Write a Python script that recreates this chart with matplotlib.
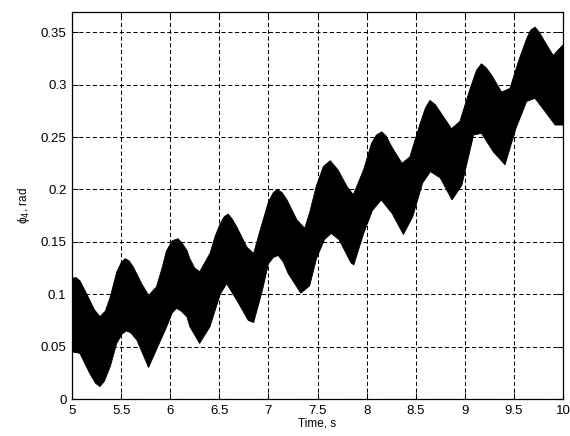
import numpy as np
import matplotlib
matplotlib.use("Agg")
import matplotlib.pyplot as plt

plt.rcParams['font.family'] = ['Liberation Sans', 'DejaVu Sans']

# upper edge of the oscillation band (time s, rad)
t_upper = [5.00, 5.04, 5.08, 5.13, 5.18, 5.23, 5.285, 5.34, 5.39, 5.455,
           5.50, 5.54, 5.58, 5.625, 5.71, 5.78, 5.86, 5.92, 5.96, 6.02,
           6.08, 6.12, 6.17, 6.20, 6.25, 6.30, 6.405, 6.46, 6.51, 6.55,
           6.59, 6.63, 6.68, 6.78, 6.85, 6.915, 7.00, 7.05, 7.09, 7.14,
           7.19, 7.29, 7.37, 7.42, 7.49, 7.56, 7.63, 7.71, 7.80, 7.865,
           7.97, 8.05, 8.10, 8.155, 8.20, 8.255, 8.36, 8.44, 8.545, 8.60,
           8.645, 8.70, 8.75, 8.865, 8.95, 9.055, 9.12, 9.17, 9.22, 9.275,
           9.375, 9.46, 9.545, 9.63, 9.67, 9.715, 9.76, 9.815, 9.90, 10.00]
phi_upper = [0.115, 0.116, 0.113, 0.104, 0.0945, 0.085, 0.0786, 0.084, 0.0976, 0.121,
             0.130, 0.134, 0.132, 0.126, 0.110, 0.099, 0.107, 0.126, 0.141, 0.151,
             0.153, 0.149, 0.142, 0.134, 0.125, 0.1215, 0.139, 0.156, 0.1675, 0.174,
             0.1765, 0.172, 0.164, 0.145, 0.139, 0.161, 0.188, 0.197, 0.200, 0.197,
             0.190, 0.171, 0.163, 0.178, 0.204, 0.222, 0.2275, 0.2186, 0.203, 0.195,
             0.219, 0.244, 0.252, 0.255, 0.251, 0.241, 0.225, 0.231, 0.263, 0.278,
             0.285, 0.281, 0.274, 0.258, 0.265, 0.2965, 0.314, 0.320, 0.316, 0.309,
             0.293, 0.2965, 0.322, 0.344, 0.352, 0.355, 0.350, 0.341, 0.328, 0.338]

# lower edge of the oscillation band
t_lower = [5.00, 5.08, 5.18, 5.24, 5.285, 5.33, 5.39, 5.455, 5.51, 5.555,
           5.60, 5.66, 5.78, 5.86, 5.965, 6.02, 6.065, 6.11, 6.17, 6.20,
           6.30, 6.405, 6.51, 6.575, 6.68, 6.795, 6.85, 6.94, 7.00, 7.05,
           7.10, 7.15, 7.20, 7.33, 7.42, 7.49, 7.57, 7.64, 7.72, 7.84,
           7.87, 7.97, 8.06, 8.15, 8.26, 8.375, 8.47, 8.57, 8.65, 8.75,
           8.87, 8.97, 9.09, 9.17, 9.29, 9.41, 9.52, 9.63, 9.715, 9.82,
           9.92, 10.00]
phi_lower = [0.045, 0.0436, 0.0245, 0.015, 0.0118, 0.017, 0.031, 0.053, 0.062, 0.065,
             0.063, 0.0563, 0.030, 0.047, 0.069, 0.082, 0.0865, 0.084, 0.0785, 0.069,
             0.053, 0.069, 0.100, 0.110, 0.094, 0.075, 0.073, 0.104, 0.129, 0.135,
             0.137, 0.131, 0.120, 0.101, 0.108, 0.134, 0.152, 0.158, 0.152, 0.130,
             0.128, 0.158, 0.180, 0.190, 0.177, 0.157, 0.174, 0.206, 0.217, 0.211,
             0.190, 0.204, 0.252, 0.2535, 0.236, 0.2235, 0.258, 0.284, 0.287, 0.274,
             0.2615, 0.2615]

x_ticks = [5, 5.5, 6, 6.5, 7, 7.5, 8, 8.5, 9, 9.5, 10]
x_labels = ['5', '5.5', '6', '6.5', '7', '7.5', '8', '8.5', '9', '9.5', '10']
y_ticks = [0, 0.05, 0.1, 0.15, 0.2, 0.25, 0.3, 0.35]
y_labels = ['0', '0.05', '0.1', '0.15', '0.2', '0.25', '0.3', '0.35']

fig = plt.figure(figsize=(5.7, 4.36), dpi=100)
ax = fig.add_axes([72 / 570, 1 - 399 / 436, (563 - 72) / 570, (399 - 12) / 436])

xs = np.r_[t_upper, t_lower[::-1]]
ys = np.r_[phi_upper, phi_lower[::-1]]
ax.fill(xs, ys, color='black', linewidth=0.6, zorder=3)

ax.set_xlim(5, 10)
ax.set_ylim(0, 0.3694)
ax.set_xticks(x_ticks)
ax.set_xticklabels(x_labels)
ax.set_yticks(y_ticks)
ax.set_yticklabels(y_labels)

ax.grid(True, color='black', linestyle=(0, (4, 2.5)), linewidth=0.75)
ax.set_axisbelow(True)
ax.tick_params(direction='in', length=4, width=0.75, top=True, right=True,
               labelsize=9.5, colors='black', pad=4)
for sp in ax.spines.values():
    sp.set_linewidth(0.9)

ax.set_xlabel('Time, s', fontsize=8.5, labelpad=1)
ax.set_ylabel('\u03d5$_4$, rad', fontsize=8.5, labelpad=6)

fig.savefig('out.png', dpi=100)
